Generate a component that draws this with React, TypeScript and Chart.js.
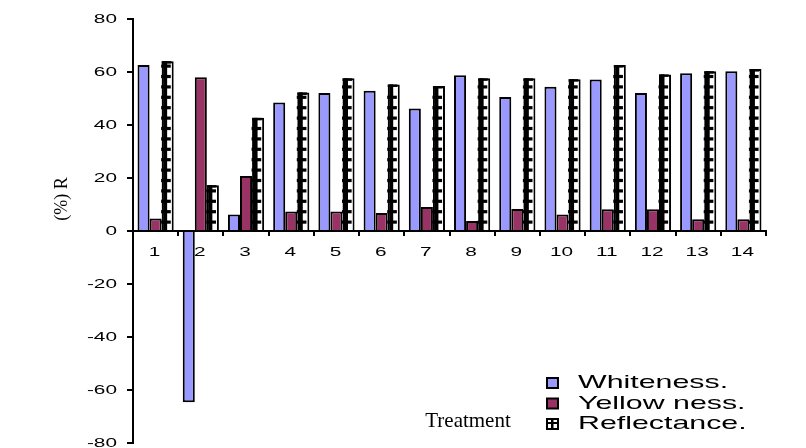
import { useEffect, useRef } from "react";
import { Chart, registerables } from "chart.js";

Chart.register(...registerables);

// Treatments along the x axis
const treatments = ["1", "2", "3", "4", "5", "6", "7", "8", "9", "10", "11", "12", "13", "14"];

// Measured values per treatment
const whiteness = [62.6, -64.6, 6.2, 48.5, 52.1, 52.9, 46.2, 58.8, 50.6, 54.4, 57.2, 52.1, 59.5, 60.3];
const yellowness = [4.7, 58.0, 20.8, 7.4, 7.4, 6.8, 9.1, 3.8, 8.3, 6.2, 8.2, 8.2, 4.4, 4.4];
const reflectance = [64.1, 17.3, 42.7, 52.3, 57.6, 55.3, 54.7, 57.6, 57.6, 57.3, 62.6, 59.1, 60.3, 61.1];

// Value axis ticks
const yTicks = [80, 60, 40, 20, 0, -20, -40, -60, -80];

const seriesNames = ["Whiteness.", "Yellow ness.", "Reflectance."];
const valueTitle = "(%) R";
const categoryTitle = "Treatment";

const WHITENESS_FILL = "#9999FF";
const YELLOWNESS_FILL = "#993366";
const SANS = "'Liberation Sans', Arial, sans-serif";
const SERIF = "'Liberation Serif', 'Times New Roman', serif";

// Draws text widened horizontally by a factor sx
function wideText(
  ctx: CanvasRenderingContext2D,
  text: string,
  x: number,
  y: number,
  sx: number,
  align: CanvasTextAlign
) {
  ctx.save();
  ctx.translate(x, y);
  ctx.scale(sx, 1);
  ctx.textAlign = align;
  ctx.fillText(text, 0, 0);
  ctx.restore();
}

const decorPlugin = {
  id: "decor",
  afterDatasetsDraw(chart: any) {
    const ctx: CanvasRenderingContext2D = chart.ctx;
    const zero = chart.scales.y.getPixelForValue(0);
    const meta = chart.getDatasetMeta(2);
    ctx.save();
    ctx.fillStyle = "#000";
    meta.data.forEach((el: any) => {
      const { x, y, base, width } = el.getProps(["x", "y", "base", "width"], true);
      const left = x - width / 2;
      const top = Math.min(y, base);
      const bottom = Math.max(y, base);
      // ladder hatching: a heavy upright plus rungs
      ctx.fillRect(left + 1.5, top, 4, bottom - top);
      ctx.fillRect(left, top, width * 0.8, 2.5);
      for (let ry = zero - 9; ry > top + 4; ry -= 10.4) {
        ctx.fillRect(left - 0.5, ry - 1.5, width * 0.8, 3.2);
      }
    });
    ctx.restore();
  },
  afterDraw(chart: any) {
    const ctx: CanvasRenderingContext2D = chart.ctx;
    const xs = chart.scales.x;
    const ys = chart.scales.y;
    const zero = ys.getPixelForValue(0);
    ctx.save();
    ctx.fillStyle = "#000";
    ctx.textBaseline = "middle";

    // value axis labels
    ctx.font = `13px ${SANS}`;
    yTicks.forEach((v) => {
      wideText(ctx, String(v), chart.chartArea.left - 16, ys.getPixelForValue(v), 1.6, "right");
    });

    // category labels
    treatments.forEach((t, i) => {
      wideText(ctx, t, xs.getPixelForValue(i) - 1, zero + 21, 1.6, "center");
    });

    // axis titles
    ctx.font = `18px ${SERIF}`;
    ctx.save();
    ctx.translate(62, 199);
    ctx.rotate(-Math.PI / 2);
    ctx.textAlign = "center";
    ctx.fillText(valueTitle, 0, 0);
    ctx.restore();
    ctx.font = `21px ${SERIF}`;
    ctx.textBaseline = "alphabetic";
    ctx.textAlign = "center";
    ctx.fillText(categoryTitle, 468, 427);

    // legend
    const boxX = 547;
    const rows = [383, 403.5, 424];
    const fills = [WHITENESS_FILL, YELLOWNESS_FILL, "#fff"];
    ctx.textBaseline = "middle";
    ctx.font = `18.5px ${SANS}`;
    rows.forEach((cy, i) => {
      ctx.fillStyle = fills[i];
      ctx.fillRect(boxX, cy - 5, 11, 10);
      ctx.strokeStyle = "#000";
      ctx.lineWidth = 2;
      ctx.strokeRect(boxX, cy - 5, 11, 10);
      if (i === 2) {
        ctx.fillStyle = "#000";
        ctx.fillRect(boxX + 4, cy - 5, 2.5, 10);
        ctx.fillRect(boxX - 1, cy - 2, 13, 2);
      }
      ctx.fillStyle = "#000";
      wideText(ctx, seriesNames[i], 578, cy, 1.64, "left");
    });
    ctx.restore();
  },
};

export default function App() {
  const canvasRef = useRef<HTMLCanvasElement | null>(null);

  useEffect(() => {
    const canvas = canvasRef.current;
    if (!canvas) return;
    const chart = new Chart(canvas, {
      type: "bar",
      data: {
        labels: treatments,
        datasets: [
          {
            label: seriesNames[0],
            data: whiteness,
            backgroundColor: WHITENESS_FILL,
            borderColor: "#000",
            borderWidth: 2,
          },
          {
            label: seriesNames[1],
            data: yellowness,
            backgroundColor: YELLOWNESS_FILL,
            borderColor: "#000",
            borderWidth: 2,
          },
          {
            label: seriesNames[2],
            data: reflectance,
            backgroundColor: "#fff",
            borderColor: "#000",
            borderWidth: 2,
          },
        ],
      },
      options: {
        responsive: false,
        animation: false,
        devicePixelRatio: 1,
        datasets: { bar: { categoryPercentage: 0.8, barPercentage: 1 } },
        layout: { padding: { left: 127, right: 40, top: 19, bottom: 5 } },
        plugins: { legend: { display: false }, tooltip: { enabled: false } },
        scales: {
          x: {
            type: "category",
            position: { y: 0 } as any,
            offset: true,
            ticks: { display: false },
            grid: {
              display: true,
              drawOnChartArea: false,
              drawTicks: true,
              tickLength: 4,
              color: "#000",
              lineWidth: 2,
              offset: true,
            },
            border: { display: true, color: "#000", width: 2 },
          },
          y: {
            min: -80,
            max: 80,
            ticks: { display: false, stepSize: 20 },
            grid: {
              display: true,
              drawOnChartArea: false,
              drawTicks: true,
              tickLength: 6,
              color: "#000",
              lineWidth: 2,
            },
            border: { display: true, color: "#000", width: 2 },
          },
        },
      },
      plugins: [decorPlugin],
    });
    return () => chart.destroy();
  }, []);

  return (
    <div
      style={{
        position: "fixed",
        left: 0,
        top: 0,
        width: 806,
        height: 448,
        overflow: "hidden",
        background: "#fff",
      }}
    >
      <canvas ref={canvasRef} width={806} height={448} style={{ display: "block" }} />
    </div>
  );
}
